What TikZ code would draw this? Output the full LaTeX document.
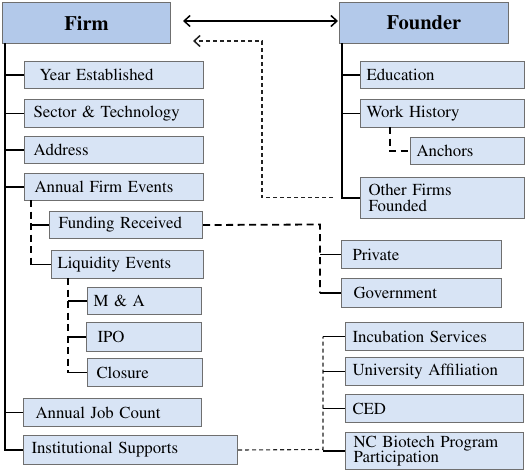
\documentclass[tikz,border=0pt]{standalone}
\usepackage[T1]{fontenc}
\usepackage{times}
\usetikzlibrary{arrows.meta}
\definecolor{childblue}{HTML}{D8E4F5}
\definecolor{headblue}{HTML}{B3C9EA}
\definecolor{boxgray}{HTML}{6F6F6F}
\definecolor{thindash}{HTML}{222222}
\tikzset{
  box/.style={draw=boxgray, fill=childblue, line width=1pt, anchor=north west,
    inner xsep=0pt, inner ysep=0pt, align=left,
    font=\fontsize{16.8}{15.5}\selectfont},
  headbox/.style={draw=boxgray, fill=headblue, line width=1pt, anchor=north west,
    inner sep=0pt, align=center, font=\fontsize{20.5}{22}\selectfont\bfseries},
  trunk/.style={line width=1.7pt, black},
  thickdash/.style={line width=1.8pt, black, dash pattern=on 7pt off 4.5pt},
  thindashed/.style={line width=1.1pt, thindash, dash pattern=on 4pt off 3pt},
  barb/.style={-{Straight Barb[length=6pt,width=11pt,line width=1.5pt]}},
  dblbarb/.style={{Straight Barb[length=6pt,width=11pt,line width=1.5pt]}-{Straight Barb[length=6pt,width=11pt,line width=1.5pt]}}
}
\begin{document}
\begin{tikzpicture}[x=1pt,y=-1pt]
\useasboundingbox (0,0) rectangle (526,471);
% headers
\node[headbox, minimum width=168pt, minimum height=41pt] (firm) at (2,2) {\raisebox{-2pt}{Firm}};
\node[headbox, minimum width=169pt, minimum height=41pt] (founder) at (339,2) {\raisebox{-2pt}{Founder}};
% firm children
\node[box, text width=179pt, minimum height=27pt] (year) at (24,61) {\hspace*{15pt}Year Established};
\node[box, text width=179pt, minimum height=28pt] (sector) at (24,99) {\hspace*{9pt}Sector \& Technology};
\node[box, text width=179pt, minimum height=27pt] (address) at (24,136) {\hspace*{9pt}Address};
\node[box, text width=179pt, minimum height=27pt] (afe) at (24,173) {\hspace*{10pt}Annual Firm Events};
\node[box, text width=153pt, minimum height=27pt] (funding) at (49,211) {\hspace*{9pt}Funding Received};
\node[box, text width=152pt, minimum height=28pt] (liquidity) at (51,250) {\hspace*{6pt}Liquidity Events};
\node[box, text width=114pt, minimum height=27pt] (ma) at (87,287) {\hspace*{6pt}M \& A};
\node[box, text width=115pt, minimum height=29pt] (ipo) at (86,322) {\hspace*{11pt}IPO};
\node[box, text width=115pt, minimum height=28pt] (closure) at (87,358) {\hspace*{9pt}Closure};
\node[box, text width=178pt, minimum height=28pt] (ajc) at (23,398) {\hspace*{12pt}Annual Job Count};
\node[box, text width=214pt, minimum height=29pt] (inst) at (23,435) {\hspace*{8pt}Institutional Supports};
% founder children
\node[box, text width=164pt, minimum height=27pt] (edu) at (360,61) {\hspace*{6pt}Education};
\node[box, text width=164pt, minimum height=28pt] (work) at (360,99) {\hspace*{6pt}Work History};
\node[box, text width=114pt, minimum height=27pt] (anchors) at (410,137) {\hspace*{6pt}Anchors};
\node[box, text width=164pt, minimum height=41pt] (other) at (360,177) {\hspace*{8pt}Other Firms\\\hspace*{8pt}Founded};
% funding children
\node[box, text width=160pt, minimum height=28pt] (private) at (341,240) {\hspace*{11pt}Private};
\node[box, text width=160pt, minimum height=29pt] (gov) at (341,278) {\hspace*{12pt}Government};
% institutional children
\node[box, text width=178pt, minimum height=28pt] (incub) at (345,322) {\hspace*{7pt}Incubation Services};
\node[box, text width=178pt, minimum height=28pt] (univ) at (345,357) {\hspace*{7pt}University Affiliation};
\node[box, text width=178pt, minimum height=28pt] (ced) at (345,394) {\hspace*{7pt}CED};
\node[box, text width=178pt, minimum height=37pt] (nc) at (345,432) {\hspace*{8pt}NC Biotech Program\\\hspace*{8pt}Participation};
% trunk coordinates
\coordinate (ft) at (5,43);
\coordinate (fot) at (342,43);
\coordinate (afet) at (31,200);
\coordinate (liqt) at (68,278);
\coordinate (wht) at (390,127);
\coordinate (fundc) at (320,224.5);
\coordinate (instc) at (323,449.5);
\coordinate (dstart) at (333,197.5);
\coordinate (dcorner) at (262,41);
\coordinate (dtip) at (193,41);
% firm trunk
\draw[trunk] (ft) |- (inst.west);
\foreach \n in {year,sector,address,afe,ajc}
  \draw[trunk] (ft |- \n.west) -- (\n.west);
% annual firm events subtree
\draw[thickdash] (afet) -- (afet |- liquidity.west);
\draw[trunk] (afet |- funding.west) -- (funding.west);
\draw[trunk] (afet |- liquidity.west) -- (liquidity.west);
% liquidity subtree
\draw[thickdash] (liqt) -- (liqt |- closure.west);
\foreach \n in {ma,ipo,closure}
  \draw[trunk] (liqt |- \n.west) -- (\n.west);
% funding to private/government
\draw[thickdash] (funding.east) -- (fundc) -- (fundc |- gov.west);
\draw[trunk] (fundc |- private.west) -- (private.west);
\draw[trunk] (fundc |- gov.west) -- (gov.west);
% institutional supports
\draw[thindashed] (inst.east) -- (instc) -- (instc |- incub.west);
\foreach \n in {incub,univ,ced,nc}
  \draw[trunk] (instc |- \n.west) -- (\n.west);
% founder trunk
\draw[trunk] (fot) |- (other.west);
\foreach \n in {edu,work}
  \draw[trunk] (fot |- \n.west) -- (\n.west);
% work history subtree
\draw[thickdash] (wht) |- (anchors.west);
% arrows
\draw[trunk, dblbarb, line width=1.5pt] ([xshift=12pt,yshift=2pt]firm.east) -- ([xshift=-1pt,yshift=2pt]founder.west);
\draw[thindashed, barb, line width=1.1pt] (dstart) -| (dcorner) -- (dtip);
\end{tikzpicture}
\end{document}
